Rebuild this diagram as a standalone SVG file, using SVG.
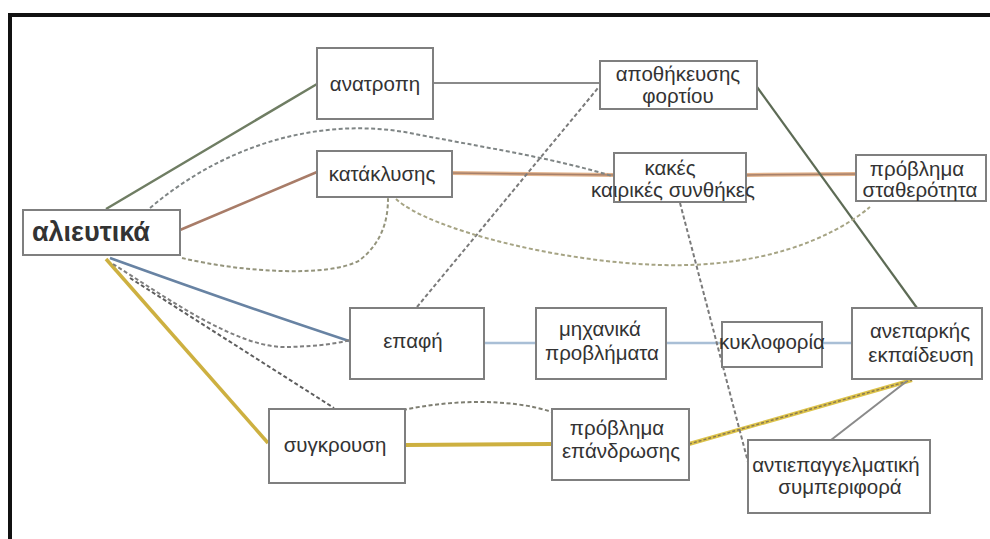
<svg xmlns="http://www.w3.org/2000/svg" width="990" height="539" viewBox="0 0 990 539">
  <style>
    .box { fill: #ffffff; stroke: #7f7f7f; stroke-width: 2; }
    .lbl { font-family: "Liberation Sans", Arial, sans-serif; font-size: 20.5px; fill: #333333; text-anchor: middle; }
    .root { font-family: "Liberation Sans", Arial, sans-serif; font-size: 27px; font-weight: bold; fill: #333333; }
    .c { fill: none; }
    .dash { stroke-dasharray: 4 2.5; stroke-width: 2; }
  </style>
  <rect width="990" height="539" fill="#ffffff"/>
  <!-- frame -->
  <path d="M 10 539 V 15 H 990" fill="none" stroke="#111111" stroke-width="4"/>

  <g id="connectors">
    <!-- solid links -->
    <path class="c" d="M 106 209 L 317 84" stroke="#6f7d63" stroke-width="2.5"/>
    <path class="c" d="M 180 230 L 317 172" stroke="#a87c68" stroke-width="2.5"/>
    <path class="c" d="M 433 83 L 600 83" stroke="#8a8a8a" stroke-width="2"/>
    <path class="c" d="M 452 173 L 614 175" stroke="#e2b48e" stroke-width="4"/>
    <path class="c" d="M 452 173 L 614 175" stroke="#a8806a" stroke-width="1.5"/>
    <path class="c" d="M 746 175 L 856 174" stroke="#e2b48e" stroke-width="4"/>
    <path class="c" d="M 746 175 L 856 174" stroke="#a8806a" stroke-width="1.5"/>
    <path class="c" d="M 757 87 L 917 308" stroke="#5d6b55" stroke-width="2.2"/>
    <path class="c" d="M 110 258 Q 240 305 349 341" stroke="#6883a3" stroke-width="2.5"/>
    <path class="c" d="M 484 343 H 536 M 666 343 H 722 M 822 343 H 852" stroke="#a9bfd6" stroke-width="2.5"/>
    <path class="c" d="M 106 259 L 268 443" stroke="#cdb040" stroke-width="3.5"/>
    <path class="c" d="M 405 445 L 552 444" stroke="#cdb040" stroke-width="4"/>
    <path class="c" d="M 689 444 L 912 380" stroke="#ddc34a" stroke-width="4"/>
    <path class="c" d="M 689 444 L 912 380" stroke="#8a7a50" stroke-width="1.5" stroke-dasharray="3 2"/>
    <path class="c" d="M 907 381 L 831 440" stroke="#8a8a8a" stroke-width="2"/>

    <!-- dashed links -->
    <path class="c dash" d="M 150 208 C 230 140 330 115 420 135 C 500 150 560 160 612 176" stroke="#7f8585"/>
    <path class="c dash" d="M 417 307 L 598 88" stroke="#7a7a7a"/>
    <path class="c dash" d="M 182 258 C 240 272 330 278 360 260 C 385 240 388 215 388 198" stroke="#94947c"/>
    <path class="c dash" d="M 396 199 C 430 230 560 262 660 265 C 760 268 830 240 870 207" stroke="#a6a484"/>
    <path class="c dash" d="M 680 203 L 748 462" stroke="#7a7a7a"/>
    <path class="c dash" d="M 113 264 C 170 300 240 350 290 347 C 320 346 340 343 350 340" stroke="#7f7f7f"/>
    <path class="c dash" d="M 130 278 L 334 408" stroke="#5e5e5e"/>
    <path class="c dash" d="M 403 410 C 450 400 510 398 552 412" stroke="#7e7e72"/>
  </g>

  <g id="n-alieutika">
    <rect class="box" x="23" y="210" width="157" height="45"/>
    <text class="root" x="32" y="241">αλιευτικά</text>
  </g>
  <g id="n-anatropi">
    <rect class="box" x="317" y="48" width="116" height="71"/>
    <text class="lbl" x="375" y="91">ανατροπη</text>
  </g>
  <g id="n-kataklysis">
    <rect class="box" x="317" y="151" width="135" height="46"/>
    <text class="lbl" x="382" y="181">κατάκλυσης</text>
  </g>
  <g id="n-apothikeusis">
    <rect class="box" x="600" y="61" width="157" height="48"/>
    <text class="lbl" x="678" y="81">αποθήκευσης</text>
    <text class="lbl" x="678" y="103">φορτίου</text>
  </g>
  <g id="n-kakes">
    <rect class="box" x="614" y="153" width="132" height="49"/>
    <text class="lbl" x="670" y="175">κακές</text>
    <text class="lbl" x="673" y="197">καιρικές συνθήκες</text>
  </g>
  <g id="n-statherotita">
    <rect class="box" x="856" y="155" width="130" height="46"/>
    <text class="lbl" x="917" y="176">πρόβλημα</text>
    <text class="lbl" x="920" y="197">σταθερότητα</text>
  </g>
  <g id="n-epafi">
    <rect class="box" x="350" y="308" width="134" height="71"/>
    <text class="lbl" x="413" y="348">επαφή</text>
  </g>
  <g id="n-michanika">
    <rect class="box" x="536" y="308" width="130" height="71"/>
    <text class="lbl" x="600" y="336">μηχανικά</text>
    <text class="lbl" x="602" y="360">προβλήματα</text>
  </g>
  <g id="n-kykloforia">
    <rect class="box" x="722" y="322" width="100" height="45"/>
    <text class="lbl" x="772" y="349">κυκλοφορία</text>
  </g>
  <g id="n-anepark">
    <rect class="box" x="852" y="308" width="130" height="71"/>
    <text class="lbl" x="920" y="338">ανεπαρκής</text>
    <text class="lbl" x="921" y="362">εκπαίδευση</text>
  </g>
  <g id="n-sygkrousi">
    <rect class="box" x="269" y="409" width="136" height="74"/>
    <text class="lbl" x="335" y="452">συγκρουση</text>
  </g>
  <g id="n-epandrosis">
    <rect class="box" x="552" y="409" width="137" height="71"/>
    <text class="lbl" x="617" y="435">πρόβλημα</text>
    <text class="lbl" x="621" y="458">επάνδρωσης</text>
  </g>
  <g id="n-antiepagg">
    <rect class="box" x="748" y="440" width="182" height="73"/>
    <text class="lbl" x="836" y="472">αντιεπαγγελματική</text>
    <text class="lbl" x="840" y="494">συμπεριφορά</text>
  </g>
</svg>
